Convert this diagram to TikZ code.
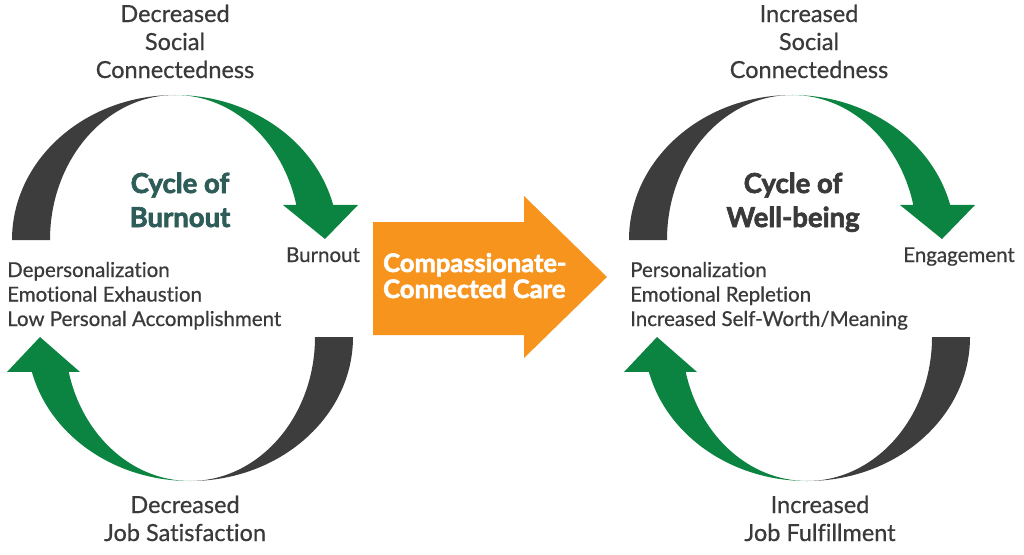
\documentclass[tikz,border=0pt]{standalone}
\usepackage{fontspec}
\setmainfont{Lato}[Ligatures=NoCommon,UprightFeatures={FakeBold=0.6},BoldFeatures={FakeBold=2.4}]
\definecolor{arcdark}{HTML}{3D3D3D}
\definecolor{arcgreen}{HTML}{0B8441}
\definecolor{orangearrow}{HTML}{F7941E}
\definecolor{txtgray}{HTML}{3A3A3A}
\definecolor{teal}{HTML}{2E5C58}
\tikzset{
  lbl/.style={text=txtgray,font=\fontsize{23.5}{28}\selectfont,align=center,inner sep=0pt,anchor=base},
  smalllbl/.style={text=txtgray,font=\fontsize{20.5}{24.5}\selectfont,inner sep=0pt,anchor=base},
  listlbl/.style={text=txtgray,font=\fontsize{20.5}{24.5}\selectfont,align=left,inner sep=0pt,anchor=base west},
  titlelbl/.style={font=\bfseries\fontsize{27.5}{34}\selectfont,align=center,inner sep=0pt,anchor=base},
  carelbl/.style={text=white,font=\bfseries\fontsize{25.5}{26}\selectfont,align=left,inner sep=0pt,anchor=base west},
}
\newcommand\cyclearcs{%
  \fill[arcdark] (12,240) arc[start angle=180,end angle=270,x radius=163,y radius=145]
     arc[start angle=270,end angle=180,x radius=125,y radius=145] -- cycle;
  \fill[arcgreen] (175,95) arc[start angle=270,end angle=346,x radius=163,y radius=145]
     -- (358,205) -- (325,239) -- (283,205) -- (296.3,204.9)
     arc[start angle=346,end angle=270,x radius=125,y radius=145] -- cycle;
  \fill[arcdark] (353,337) arc[start angle=0,end angle=90,x radius=163,y radius=144]
     arc[start angle=90,end angle=0,x radius=125,y radius=144] -- cycle;
  \fill[arcgreen] (190,481) arc[start angle=90,end angle=166,x radius=163,y radius=144]
     -- (7,372) -- (40,337) -- (80,372) -- (68.7,371.8)
     arc[start angle=166,end angle=90,x radius=125,y radius=144] -- cycle;
}
\begin{document}
\begin{tikzpicture}[x=1pt,y=-1pt]
\useasboundingbox[fill=white] (0,0) rectangle (1024,554);
% left cycle
\cyclearcs
% right cycle
\begin{scope}[xshift=617pt]
\cyclearcs
\end{scope}
% central arrow
\fill[orangearrow] (373,222) -- (524,222) -- (524,196) -- (607,277) -- (524,358) -- (524,335) -- (373,335) -- cycle;
\node[carelbl] (care) at (383,298) {Compassionate-\\Connected Care};
% left labels
\node[lbl] (dsc) at (175,78) {Decreased\\Social\\Connectedness};
\node[lbl] (djs) at (185,541) {Decreased\\Job Satisfaction};
\node[smalllbl] (burn) at (323,262) {Burnout};
\node[listlbl] (dep) at (7,326) {Depersonalization\\Emotional Exhaustion\\Low Personal Accomplishment};
\node[titlelbl,text=teal] (cob) at (180,227) {Cycle of\\Burnout};
% right labels
\node[lbl] (isc) at (809,78) {Increased\\Social\\Connectedness};
\node[lbl] (ijf) at (820,541) {Increased\\Job Fulfillment};
\node[smalllbl] (eng) at (959,262) {Engagement};
\node[listlbl] (pers) at (630,326) {Personalization\\Emotional Repletion\\Increased Self-Worth/Meaning};
\node[titlelbl,text=txtgray] (cow) at (793,227) {Cycle of\\Well-being};
\end{tikzpicture}
\end{document}
